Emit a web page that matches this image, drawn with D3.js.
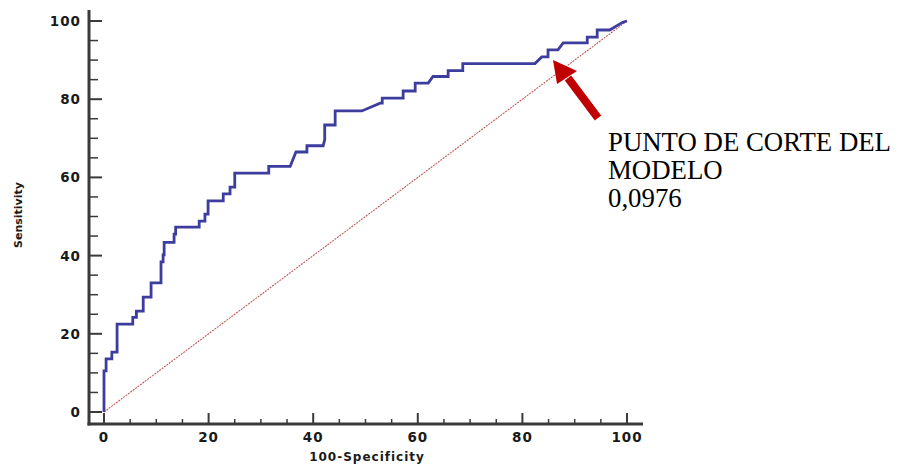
<!DOCTYPE html>
<html>
<head>
<meta charset="utf-8">
<script src="https://cdn.jsdelivr.net/npm/d3@7"></script>
<style>
  body { margin: 0; background: #fff; }
  svg { display: block; }
  .tick-label { font-family: 'DejaVu Sans', Verdana, sans-serif; font-weight: bold; }
</style>
</head>
<body>
<svg width="899" height="464"></svg>
<script>
// ROC curve points: 100-Specificity, Sensitivity
let fpr = [0, 0, 0.4, 0.4, 1.5, 1.5, 2.5, 2.5, 5.5, 5.5, 6.2, 6.2, 7.5, 7.5, 9.0, 9.0,
  10.9, 10.9, 11.3, 11.3, 11.5, 11.5, 13.4, 13.4, 13.7, 13.7, 18.2, 18.2, 19.3, 19.3,
  19.9, 19.9, 22.8, 22.8, 24.1, 24.1, 25.0, 25.0, 31.5, 31.5, 35.6, 36.7, 38.8, 38.8,
  41.9, 42.2, 42.2, 44.2, 44.2, 49.3, 52.8, 53.2, 53.2, 57.2, 57.2, 59.5, 59.5, 62.0,
  62.9, 65.8, 65.8, 68.6, 68.6, 82.4, 83.7, 84.9, 84.9, 86.8, 87.8, 92.4, 92.4, 94.3,
  94.3, 96.7, 99.2, 100]
let sens = [0, 10.5, 10.5, 13.6, 13.6, 15.3, 15.3, 22.5, 22.5, 24.2, 24.2, 25.8, 25.8, 29.4, 29.4, 33.0,
  33.0, 38.4, 38.4, 40.2, 40.2, 43.4, 43.4, 45.5, 45.5, 47.3, 47.3, 48.8, 48.8, 50.6,
  50.6, 54.0, 54.0, 55.8, 55.8, 57.5, 57.5, 61.1, 61.1, 62.8, 62.8, 66.5, 66.5, 68.1,
  68.1, 69.6, 73.4, 73.4, 77.0, 77.0, 79.0, 79.0, 80.3, 80.3, 82.1, 82.1, 84.1, 84.1,
  85.8, 85.8, 87.3, 87.3, 89.1, 89.1, 90.8, 90.8, 92.6, 92.6, 94.4, 94.4, 95.9, 95.9,
  97.7, 97.7, 99.7, 100]
let majorTicks = [0, 20, 40, 60, 80, 100]
let minorTicks = d3.range(0, 101, 5).filter(v => v % 20 !== 0)
let xTitle = '100-Specificity'
let yTitle = 'Sensitivity'
let noteLines = ['PUNTO DE CORTE DEL', 'MODELO', '0,0976']

let svg = d3.select('svg')

let x = d3.scaleLinear().domain([0, 100]).range([104, 627])
let y = d3.scaleLinear().domain([0, 100]).range([412, 21])

let axisColor = '#3a3a3a'
let x0 = 89, y0 = 424

// diagonal reference
svg.append('line')
  .attr('x1', x(0)).attr('y1', y(0))
  .attr('x2', x(100)).attr('y2', y(100))
  .attr('stroke', '#bf5a5a')
  .attr('stroke-width', 1.1)
  .attr('stroke-dasharray', '2,1')

// ROC curve
let pts = fpr.map((d, i) => [d, sens[i]])
let line = d3.line().x(d => x(d[0])).y(d => y(d[1]))
svg.append('path')
  .datum(pts)
  .attr('d', line)
  .attr('fill', 'none')
  .attr('stroke', '#3d3d9e')
  .attr('stroke-width', 2.8)
  .attr('stroke-linejoin', 'miter')

// axes lines
svg.append('line')
  .attr('x1', x0).attr('y1', 10).attr('x2', x0).attr('y2', y0 + 1.5)
  .attr('stroke', axisColor).attr('stroke-width', 3)
svg.append('line')
  .attr('x1', x0 - 1.5).attr('y1', y0).attr('x2', 643).attr('y2', y0)
  .attr('stroke', axisColor).attr('stroke-width', 3)

// y ticks
svg.selectAll('.ymaj').data(majorTicks).enter().append('line')
  .attr('x1', x0).attr('x2', 102)
  .attr('y1', d => y(d)).attr('y2', d => y(d))
  .attr('stroke', axisColor).attr('stroke-width', 2)
svg.selectAll('.ymin').data(minorTicks).enter().append('line')
  .attr('x1', x0).attr('x2', 98)
  .attr('y1', d => y(d)).attr('y2', d => y(d))
  .attr('stroke', axisColor).attr('stroke-width', 1.5)
svg.selectAll('.ylab').data(majorTicks).enter().append('text')
  .attr('class', 'tick-label')
  .attr('x', 81).attr('y', d => y(d) + 5)
  .attr('text-anchor', 'end')
  .attr('font-size', 13.5)
  .attr('letter-spacing', 1)
  .attr('fill', '#1a1a1a')
  .text(d => d)

// x ticks
svg.selectAll('.xmaj').data(majorTicks).enter().append('line')
  .attr('x1', d => x(d)).attr('x2', d => x(d))
  .attr('y1', y0).attr('y2', 413)
  .attr('stroke', axisColor).attr('stroke-width', 2)
svg.selectAll('.xmin').data(minorTicks).enter().append('line')
  .attr('x1', d => x(d)).attr('x2', d => x(d))
  .attr('y1', y0).attr('y2', 419)
  .attr('stroke', axisColor).attr('stroke-width', 1.5)
svg.selectAll('.xlab').data(majorTicks).enter().append('text')
  .attr('class', 'tick-label')
  .attr('x', d => x(d)).attr('y', 442)
  .attr('text-anchor', 'middle')
  .attr('font-size', 13.5)
  .attr('letter-spacing', 1)
  .attr('fill', '#1a1a1a')
  .text(d => d)

// titles
svg.append('text')
  .attr('class', 'tick-label')
  .attr('x', 367).attr('y', 461)
  .attr('text-anchor', 'middle')
  .attr('font-size', 12)
  .attr('letter-spacing', 1)
  .attr('fill', '#1a1a1a')
  .text(xTitle)
svg.append('text')
  .attr('class', 'tick-label')
  .attr('transform', 'translate(22, 215) rotate(-90)')
  .attr('text-anchor', 'middle')
  .attr('font-size', 11)
  .attr('fill', '#1a1a1a')
  .text(yTitle)

// arrow to cut-off point
let arrowColor = '#c00000'
svg.append('line')
  .attr('x1', 598).attr('y1', 118).attr('x2', 568).attr('y2', 78)
  .attr('stroke', arrowColor).attr('stroke-width', 8)
svg.append('path')
  .attr('d', 'M553,60 L577,71 L557,84 Z')
  .attr('fill', arrowColor)

svg.selectAll('.note').data(noteLines).enter().append('text')
  .attr('x', 608)
  .attr('y', (d, i) => 151 + i * 28)
  .attr('font-family', "'Liberation Serif', 'Times New Roman', serif")
  .attr('font-size', 26.8)
  .attr('fill', '#000')
  .text(d => d)
</script>
</body>
</html>
